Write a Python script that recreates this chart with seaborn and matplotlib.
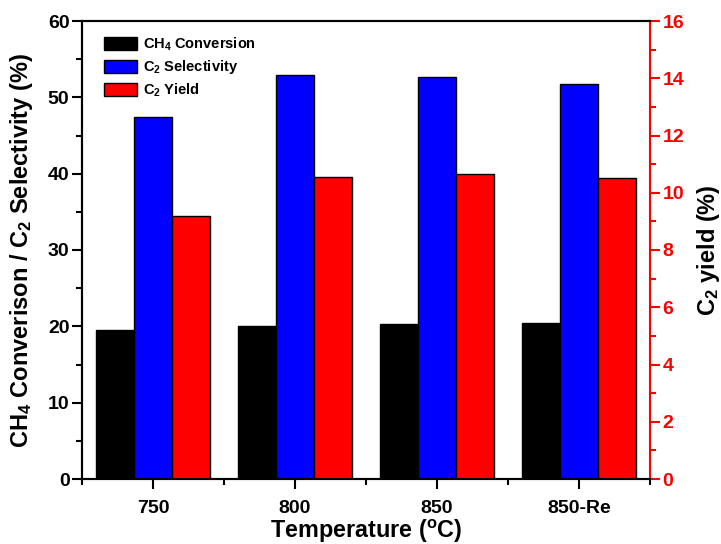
import numpy as np
import pandas as pd
import matplotlib
matplotlib.use("Agg")
import matplotlib.pyplot as plt
from matplotlib.patches import Patch
from matplotlib.ticker import MultipleLocator
import seaborn as sns

# Reaction data at each temperature
temperatures = ["750", "800", "850", "850-Re"]
ch4_conversion = [19.5, 20.0, 20.35, 20.4]    # %
c2_selectivity = [47.4, 52.9, 52.6, 51.7]     # %
c2_yield = [9.18, 10.56, 10.65, 10.51]        # %

series_names = ["CH$_4$ Conversion", "C$_2$ Selectivity", "C$_2$ Yield"]
series_colors = ["#000000", "#0000FF", "#FF0000"]

sns.set_theme(style="white")
plt.rcParams["font.family"] = ["Liberation Sans", "DejaVu Sans"]
plt.rcParams["font.weight"] = "bold"
plt.rcParams["text.color"] = "black"
plt.rcParams["axes.labelcolor"] = "black"
plt.rcParams["xtick.color"] = "black"
plt.rcParams["ytick.color"] = "black"
plt.rcParams["mathtext.fontset"] = "custom"
plt.rcParams["mathtext.rm"] = "Liberation Sans:bold"
plt.rcParams["mathtext.it"] = "Liberation Sans:bold"
plt.rcParams["mathtext.bf"] = "Liberation Sans:bold"
plt.rcParams["mathtext.default"] = "rm"

left_df = pd.DataFrame({
    "Temperature": temperatures * 2,
    "Series": [series_names[0]] * 4 + [series_names[1]] * 4,
    "Value": ch4_conversion + c2_selectivity,
})
right_df = pd.DataFrame({
    "Temperature": temperatures,
    "Series": [series_names[2]] * 4,
    "Value": c2_yield,
})
palette = dict(zip(series_names, series_colors))

fig = plt.figure(figsize=(7.21, 5.44), dpi=100)
ax = fig.add_axes([82 / 721, 1 - 479 / 544, (650 - 82) / 721, (479 - 21) / 544])

sns.barplot(data=left_df, x="Temperature", y="Value", hue="Series",
            hue_order=series_names, order=temperatures, palette=palette,
            saturation=1, width=0.8, dodge=True, edgecolor="black", linewidth=1.0,
            legend=False, ax=ax)

ax2 = ax.twinx()
sns.barplot(data=right_df, x="Temperature", y="Value", hue="Series",
            hue_order=series_names, order=temperatures, palette=palette,
            saturation=1, width=0.8, dodge=True, edgecolor="black", linewidth=1.0,
            legend=False, ax=ax2)

# Left axis
ax.set_xlim(-0.5, 3.5)
ax.set_ylim(0, 60)
ax.yaxis.set_major_locator(MultipleLocator(10))
ax.yaxis.set_minor_locator(MultipleLocator(5))
ax.xaxis.set_minor_locator(MultipleLocator(0.5))
ax.tick_params(axis="y", which="major", direction="out", length=7, width=1.5,
               labelsize=14, left=True, colors="black", pad=2)
ax.tick_params(axis="y", which="minor", direction="out", length=4, width=1.5, left=True)
ax.tick_params(axis="x", which="major", direction="out", length=7, width=1.5,
               labelsize=14, bottom=True, pad=8, colors="black")
ax.tick_params(axis="x", which="minor", direction="out", length=4, width=1.5, bottom=True)
for lbl in ax.get_xticklabels() + ax.get_yticklabels():
    lbl.set_fontweight("bold")
ax.set_xlabel("Temperature ($^{o}$C)", fontsize=16.8, fontweight="bold", labelpad=1,
              color="black")
ax.set_ylabel("CH$_4$ Converison / C$_2$ Selectivity (%)", fontsize=17,
              fontweight="bold", labelpad=9, color="black")

# Right axis for yield
ax2.set_xlim(-0.5, 3.5)
ax2.set_ylim(0, 16)
ax2.yaxis.set_major_locator(MultipleLocator(2))
ax2.yaxis.set_minor_locator(MultipleLocator(1))
ax2.tick_params(axis="y", which="major", direction="out", length=7, width=1.5,
                labelsize=14, right=True, colors="red", pad=2)
ax2.tick_params(axis="y", which="minor", direction="out", length=4, width=1.5,
                right=True, colors="red")
ax2.xaxis.set_minor_locator(MultipleLocator(0.5))
ax2.tick_params(axis="x", which="major", direction="in", length=7, width=1.5,
                top=True, bottom=False, labeltop=False, labelbottom=False)
ax2.tick_params(axis="x", which="minor", direction="in", length=4, width=1.5,
                top=True, bottom=False)
ax2.xaxis.set_ticks_position("top")
ax2.set_xlabel("")
for lbl in ax2.get_yticklabels():
    lbl.set_fontweight("bold")
ax2.set_ylabel("C$_2$ yield (%)", fontsize=17, fontweight="bold", color="black", labelpad=8)

for a in (ax, ax2):
    for s in a.spines.values():
        s.set_linewidth(1.5)
        s.set_color("black")
ax2.spines["right"].set_color("red")
ax.spines["right"].set_visible(False)

handles = [Patch(facecolor=c, edgecolor="black", linewidth=1.0, label=n)
           for n, c in zip(series_names, series_colors)]
leg = ax.legend(handles=handles, loc="upper left", bbox_to_anchor=(0.02, 0.99),
                frameon=False, fontsize=10.5, handlelength=2.3, handleheight=1.0,
                handletextpad=0.4, labelspacing=0.35, borderaxespad=0.3)
for t in leg.get_texts():
    t.set_fontweight("bold")
    t.set_color("black")
ax2.set_zorder(ax.get_zorder() + 1)
ax2.patch.set_visible(False)
leg.remove()
ax2.add_artist(leg)

fig.savefig("out.png", dpi=100)
